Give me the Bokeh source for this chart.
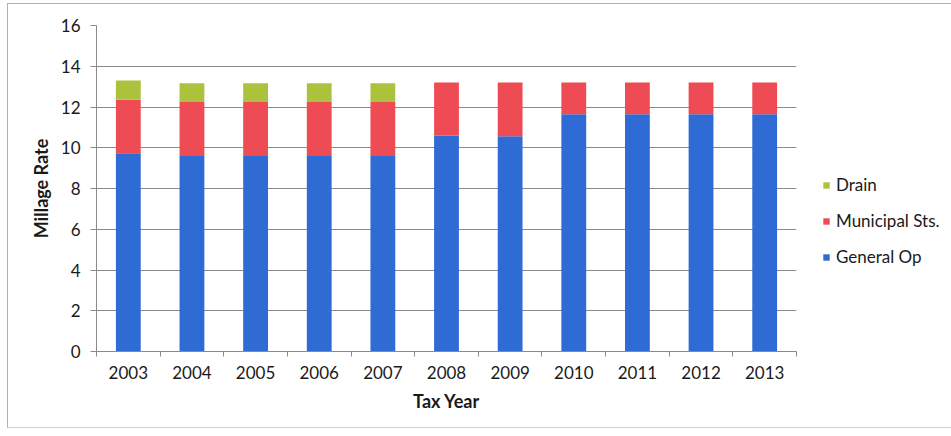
from bokeh.plotting import figure
from bokeh.models import Legend, LegendItem, LinearAxis, FixedTicker
from bokeh.layouts import row
from bokeh.embed import file_html
from bokeh.resources import INLINE

years = ["2003", "2004", "2005", "2006", "2007", "2008", "2009", "2010", "2011", "2012", "2013"]
general_op = [9.73, 9.6, 9.6, 9.6, 9.6, 10.6, 10.57, 11.65, 11.65, 11.65, 11.65]
municipal_sts = [2.62, 2.64, 2.64, 2.64, 2.64, 2.6, 2.63, 1.55, 1.55, 1.55, 1.55]
drain = [0.95, 0.93, 0.93, 0.93, 0.93, 0, 0, 0, 0, 0, 0]
series = ["general_op", "municipal_sts", "drain"]
labels = ["General Op", "Municipal Sts.", "Drain"]
colors = ["#2f6bd4", "#ef4b55", "#abc23c"]
yticks = [0, 2, 4, 6, 8, 10, 12, 14, 16]

FONT = "Lato"
TXT = "#1a1a1a"
AX = "#8a8a8a"
BORDER = "1.5px solid #b0b0b0"

n = len(years)
centers = [i + 0.5 for i in range(n)]

p = figure(width=798, height=425, x_range=(0, n), y_range=(0, 16),
           x_axis_location=None,
           output_backend="svg", toolbar_location=None,
           min_border_left=88, min_border_right=10, min_border_top=21, min_border_bottom=78)
p.styles = {"border-left": BORDER, "border-top": BORDER,
            "border-bottom": "1.5px solid #d0d0d0",
            "margin-left": "7px", "margin-top": "3px"}

source = dict(x=centers, general_op=general_op, municipal_sts=municipal_sts, drain=drain)
rs = p.vbar_stack(series, x="x", width=0.39, color=colors, source=source, line_color=None)

p.xgrid.grid_line_color = None
p.ygrid.grid_line_color = AX
p.ygrid.grid_line_width = 1
p.yaxis.ticker = yticks
p.outline_line_color = None

# axis line with tick marks at category boundaries
bounds = list(range(n + 1))
bound_axis = LinearAxis(ticker=FixedTicker(ticks=bounds),
                        major_label_overrides={b: "" for b in bounds},
                        axis_line_color=AX, major_tick_line_color=AX,
                        major_tick_out=5, major_tick_in=0,
                        minor_tick_line_color=None, major_label_standoff=0)
p.add_layout(bound_axis, "below")

# year labels at category centres
cat_axis = LinearAxis(ticker=FixedTicker(ticks=centers),
                      major_label_overrides={c: y for c, y in zip(centers, years)},
                      axis_line_color=None, major_tick_line_color=None,
                      minor_tick_line_color=None,
                      major_tick_out=0, major_tick_in=0,
                      major_label_standoff=9,
                      major_label_text_font=FONT, major_label_text_font_size="17px",
                      major_label_text_color=TXT,
                      axis_label="Tax Year", axis_label_standoff=8,
                      axis_label_text_font=FONT, axis_label_text_font_size="18px",
                      axis_label_text_font_style="bold", axis_label_text_color=TXT)
p.add_layout(cat_axis, "below")

ya = p.yaxis[0]
ya.axis_line_color = AX
ya.major_tick_line_color = AX
ya.minor_tick_line_color = None
ya.major_tick_out = 6
ya.major_tick_in = 0
ya.major_label_text_font = FONT
ya.major_label_text_font_size = "17px"
ya.major_label_text_color = TXT
ya.major_label_standoff = 10
ya.axis_label = "Millage Rate"
ya.axis_label_text_font = FONT
ya.axis_label_text_font_size = "18px"
ya.axis_label_text_font_style = "bold"
ya.axis_label_text_color = TXT
ya.axis_label_standoff = 6

# legend panel on the right (its swatch renderers lie outside its visible range)
lf = figure(width=146, height=425, x_range=(-2, -1), y_range=(20, 21),
            x_axis_location=None, y_axis_location=None,
            output_backend="svg", toolbar_location=None,
            min_border=0, outline_line_color=None)
lf.styles = {"border-top": BORDER, "border-bottom": "1.5px solid #d0d0d0", "margin-top": "3px"}
lf.xgrid.grid_line_color = None
lf.ygrid.grid_line_color = None
swatches = lf.vbar_stack(series, x="x", width=0.39, color=colors, source=source, line_color=None)

items = [LegendItem(label=labels[i], renderers=[swatches[i]]) for i in (2, 1, 0)]
legend = Legend(items=items, location=(17, 84), orientation="vertical",
                glyph_width=8, glyph_height=8, label_height=20, spacing=15,
                label_standoff=6, padding=0, margin=0,
                border_line_color=None, background_fill_alpha=0,
                label_text_font=FONT, label_text_font_size="17px",
                label_text_color=TXT)
lf.add_layout(legend, "center")

layout = row(p, lf)
open("out.html", "w").write(file_html(layout, INLINE))
